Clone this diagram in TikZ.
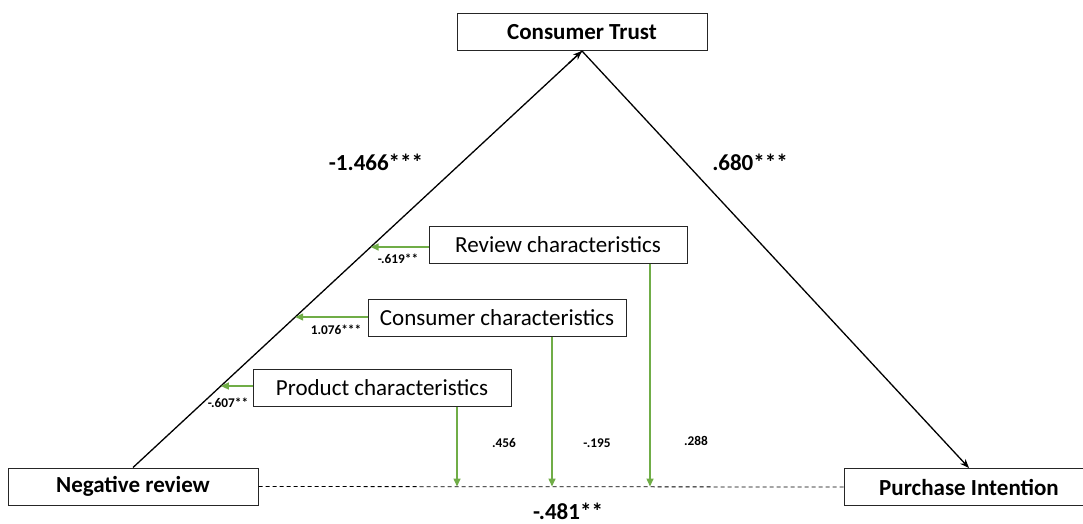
\documentclass[tikz,border=0pt]{standalone}
\usepackage{fontspec}
\setmainfont{Carlito}
\usetikzlibrary{arrows.meta,intersections,calc}
\definecolor{modgreen}{RGB}{112,173,71}
\begin{document}
\begin{tikzpicture}[x=1pt,y=-1pt,
  box/.style={draw=black!85,line width=1pt,fill=white,inner sep=0pt,
    minimum height=37pt,font=\fontsize{23}{27}\selectfont},
  bigbox/.style={box,minimum width=250pt,font=\fontsize{23}{27}\selectfont\bfseries},
  modbox/.style={box,minimum width=258pt},
  path/.style={draw=black,line width=1.3pt,-{Stealth[length=9pt,width=7pt]}},
  modarrow/.style={draw=modgreen,line width=1.5pt,-{Triangle[length=8pt,width=7pt]}},
  coef/.style={font=\fontsize{23}{27}\selectfont\bfseries,inner sep=0pt},
  smallcoef/.style={font=\fontsize{13.3}{16}\selectfont\bfseries,inner sep=0pt}]
\useasboundingbox (0,0) rectangle (1083,523);
\clip (0,0) rectangle (1083,523);

% main constructs
\node[bigbox] (CT) at (582,32) {Consumer Trust};
\node[bigbox] (NR) at (133,486.5) {Negative review};
\node[bigbox] (PI) at (969,487) {Purchase Intention};

% moderators
\node[modbox] (RC) at (558,244.5) {Review characteristics};
\node[modbox] (CC) at (497,317.5) {Consumer characteristics};
\node[modbox] (PC) at (382,388) {Product characteristics};

% direct effect (dashed)
\draw[line width=0.8pt,dash pattern=on 4pt off 3pt] (NR.east) -- (PI.west);

% mediation paths
\draw[path,name path=diag,-] (NR.north) -- (CT.south);
\draw[path] ($(NR.north)!0.97!(CT.south)$) -- (CT.south);
\draw[path] (CT.south) -- (PI.north);

% moderation of the a-path
\foreach \m/\yy in {RC/247,CC/317,PC/386}{
  \path[name path=h\m] (0,\yy) -- (1083,\yy);
  \path[name intersections={of=diag and h\m,by=t\m}];
  \draw[modarrow] (\m.west |- t\m) -- (t\m);
}

% moderation of the direct path
\coordinate (xP) at (457,0);
\coordinate (xC) at (552,0);
\coordinate (xR) at (650,0);
\draw[modarrow] (PC.south -| xP) -- (xP |- NR.east);
\draw[modarrow] (CC.south -| xC) -- (xC |- NR.east);
\draw[modarrow] (RC.south -| xR) -- (xR |- NR.east);

% coefficients
\node[coef] (a) at (376,162) {-1.466***};
\node[coef] (b) at (750,162) {.680***};
\node[coef,anchor=base] (c) at (568,519) {-.481**};
\node[smallcoef] (mR) at (398,259) {-.619**};
\node[smallcoef] (mC) at (336,330) {1.076***};
\node[smallcoef] (mP) at (228,403) {-.607**};
\node[smallcoef] (dP) at (504,443) {.456};
\node[smallcoef] (dC) at (597,443) {-.195};
\node[smallcoef] (dR) at (696,441) {.288};
\end{tikzpicture}
\end{document}
